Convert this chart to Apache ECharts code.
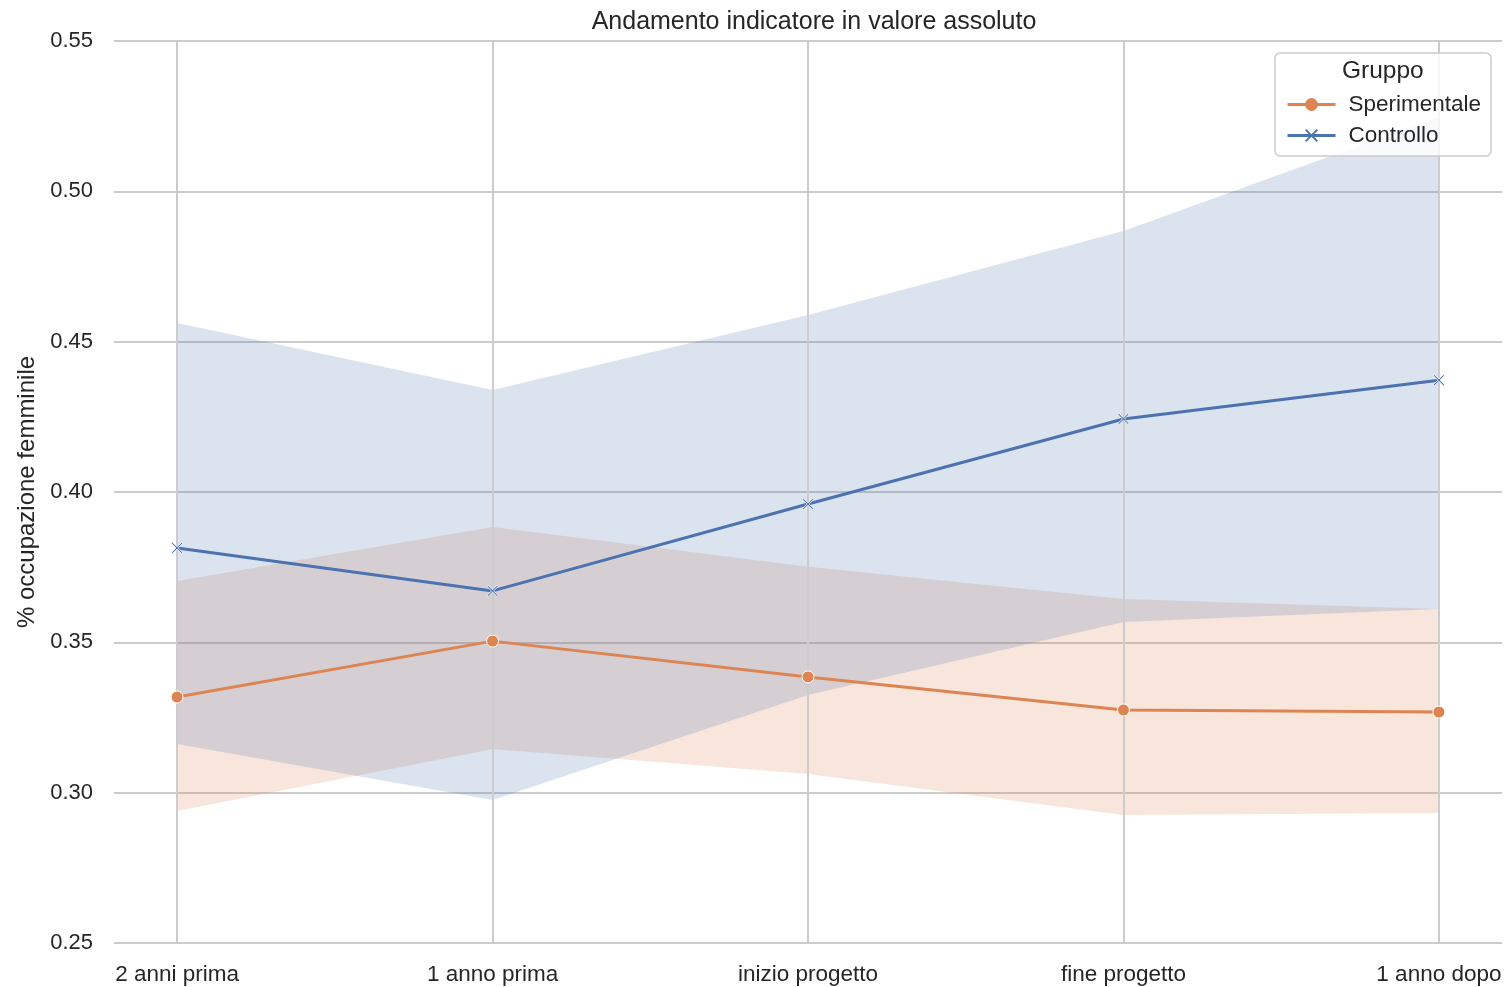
<!DOCTYPE html>
<html>
<head>
<meta charset="utf-8">
<script src="https://cdn.jsdelivr.net/npm/echarts@6/dist/echarts.min.js"></script>
<style>
  html, body { margin: 0; padding: 0; background: #fff; }
  #chart { width: 1506px; height: 987px; }
</style>
</head>
<body>
<div id="chart"></div>
<script>
// Periods on the x axis
const categories = ['2 anni prima', '1 anno prima', 'inizio progetto', 'fine progetto', '1 anno dopo'];

// Sperimentale: mean and confidence band
const speriMean  = [0.3318, 0.3504, 0.3385, 0.3275, 0.3268];
const speriLow   = [0.2939, 0.3145, 0.3062, 0.2926, 0.2932];
const speriHigh  = [0.3704, 0.3884, 0.3751, 0.3644, 0.3611];

// Controllo: mean and confidence band
const ctrlMean   = [0.3814, 0.3671, 0.3960, 0.4243, 0.4372];
const ctrlLow    = [0.3162, 0.2976, 0.3325, 0.3568, 0.3611];
const ctrlHigh   = [0.4562, 0.4339, 0.4589, 0.4868, 0.5247];

// Y tick values
const yTicks = [0.25, 0.30, 0.35, 0.40, 0.45, 0.50, 0.55];

const ORANGE = '#dd8452';
const BLUE = '#4c72b0';
const TEXT = '#262626';
const GRID = '#cccccc';
const FONT = '"Liberation Sans", Arial, sans-serif';

// filled "X" marker
const xMarker = 'path://M1,0 L5,4 L9,0 L10,1 L6,5 L10,9 L9,10 L5,6 L1,10 L0,9 L4,5 L0,1 Z';

const pts = arr => arr.map((v, i) => [i, v]);

// Confidence band drawn as a polygon through the axis scales
function bandSeries(lo, hi, color, z) {
  return {
    type: 'custom', silent: true, z: z,
    data: [[0, lo[0]]],
    renderItem: (params, api) => {
      const upper = hi.map((v, i) => api.coord([i, v]));
      const lower = lo.map((v, i) => api.coord([i, v])).reverse();
      return {
        type: 'polygon',
        shape: { points: upper.concat(lower) },
        style: { fill: color, opacity: 0.2 }
      };
    }
  };
}

const chart = echarts.init(document.getElementById('chart'), null, { renderer: 'canvas' });

chart.setOption({
  animation: false,
  backgroundColor: '#ffffff',
  title: {
    text: 'Andamento indicatore in valore assoluto',
    left: 809, top: 5, textAlign: 'center',
    textStyle: { fontFamily: FONT, fontSize: 25, fontWeight: 'normal', color: TEXT }
  },
  grid: { left: 114, right: 4, top: 41, bottom: 44, containLabel: false },
  xAxis: {
    type: 'value', min: -0.2, max: 4.2,
    axisLine: { show: false }, axisTick: { show: false },
    splitLine: { show: false },
    axisLabel: {
      customValues: categories.map((c, i) => i),
      formatter: v => categories[Math.round(v)] || '',
      fontFamily: FONT, fontSize: 22.5, color: TEXT, margin: 20
    }
  },
  yAxis: {
    type: 'value', min: yTicks[0], max: yTicks[yTicks.length - 1], interval: 0.05,
    name: '% occupazione femminile', nameLocation: 'middle', nameGap: 74,
    nameTextStyle: { fontFamily: FONT, fontSize: 24, color: TEXT },
    axisLine: { show: false }, axisTick: { show: false },
    splitLine: { lineStyle: { color: GRID, width: 2 } },
    axisLabel: {
      formatter: v => v.toFixed(2),
      fontFamily: FONT, fontSize: 22, color: TEXT, margin: 21
    }
  },
  legend: {
    orient: 'vertical', left: 1281, top: 88,
    data: ['Sperimentale', 'Controllo'],
    itemWidth: 48, itemHeight: 16, itemGap: 8,
    itemStyle: { borderWidth: 0 },
    lineStyle: { width: 3 },
    textStyle: { fontFamily: FONT, fontSize: 22.5, color: TEXT, padding: [0, 0, 0, 8] },
    z: 101
  },
  graphic: [
    {
      type: 'rect', z: 100,
      shape: { x: 1275, y: 53, width: 216, height: 103, r: 5 },
      style: { fill: 'rgba(255,255,255,0.8)', stroke: GRID, lineWidth: 1.5 }
    },
    {
      type: 'text', z: 101, left: 1342, top: 59,
      style: { text: 'Gruppo', font: '24.5px ' + FONT, fill: TEXT }
    }
  ],
  series: [
    // vertical gridlines at each period
    {
      type: 'line', data: [], silent: true, z: 1,
      markLine: {
        silent: true, symbol: 'none', label: { show: false },
        lineStyle: { color: GRID, width: 2, type: 'solid' },
        data: categories.map((c, i) => ({ xAxis: i }))
      }
    },
    bandSeries(speriLow, speriHigh, ORANGE, 2),
    bandSeries(ctrlLow, ctrlHigh, BLUE, 3),
    {
      name: 'Sperimentale', type: 'line', data: pts(speriMean), z: 5,
      symbol: 'circle', symbolSize: 12,
      lineStyle: { color: ORANGE, width: 3 },
      itemStyle: { color: ORANGE, borderColor: '#ffffff', borderWidth: 1 }
    },
    {
      name: 'Controllo', type: 'line', data: pts(ctrlMean), z: 5,
      symbol: xMarker, symbolSize: 11,
      lineStyle: { color: BLUE, width: 3 },
      itemStyle: { color: BLUE, borderColor: '#ffffff', borderWidth: 0.8 }
    }
  ]
});
</script>
</body>
</html>
